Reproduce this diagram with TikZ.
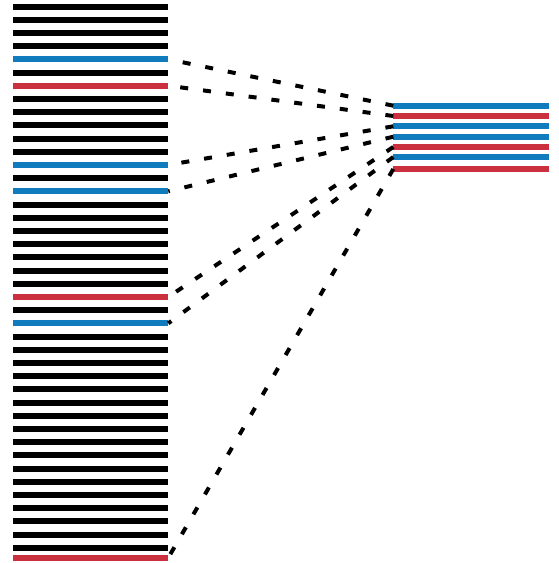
\documentclass[tikz,border=0pt]{standalone}
\definecolor{cblue}{RGB}{16,124,190}
\definecolor{cred}{RGB}{202,48,62}
\begin{document}
\begin{tikzpicture}[x=1pt,y=-1pt,
  bar/.style={line width=6pt},
  link/.style={line width=4pt, dash pattern=on 8pt off 15pt}]
\useasboundingbox (0,0) rectangle (558,563);
% left column end points
\foreach \i in {0,...,41} {
  \pgfmathsetmacro\yy{6.5+13.2*\i}
  \coordinate (La\i) at (13,\yy);
  \coordinate (Lb\i) at (168.3,\yy);
}
\coordinate (La42) at (13,557.7);
\coordinate (Lb42) at (168.3,557.7);
% left bars
\foreach \i/\c in {0/black,1/black,2/black,3/black,4/cblue,5/black,6/cred,7/black,8/black,9/black,
  10/black,11/black,12/cblue,13/black,14/cblue,15/black,16/black,17/black,18/black,19/black,
  20/black,21/black,22/cred,23/black,24/cblue,25/black,26/black,27/black,28/black,29/black,
  30/black,31/black,32/black,33/black,34/black,35/black,36/black,37/black,38/black,39/black,
  40/black,41/black,42/cred}
  \draw[bar,\c] (La\i) -- (Lb\i);
% right column
\foreach \j/\yy/\c in {1/105.7/cblue,2/116/cred,3/126.3/cblue,4/136.7/cblue,5/147/cred,6/157/cblue,7/169/cred} {
  \coordinate (Ra\j) at (393.3,\yy);
  \coordinate (Rb\j) at (549,\yy);
  \draw[bar,\c] (Ra\j) -- (Rb\j);
}
% connectors
\foreach \j/\i in {1/4,2/6,3/12,4/14,5/22,6/24,7/42}
  \draw[link] (Ra\j) -- (Lb\i);
\end{tikzpicture}
\end{document}
